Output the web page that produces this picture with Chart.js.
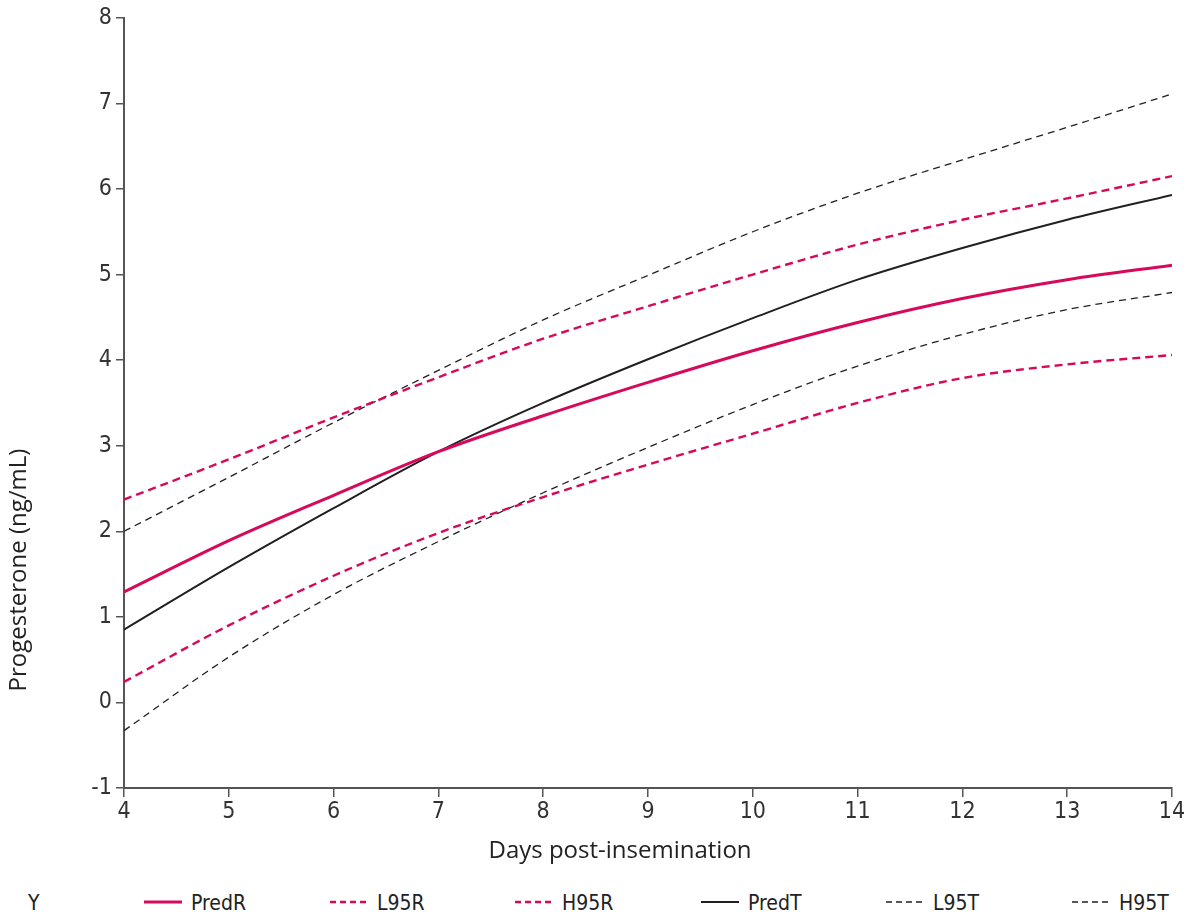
<!DOCTYPE html>
<html>
<head>
<meta charset="utf-8">
<script src="https://cdn.jsdelivr.net/npm/chart.js@4.4.1/dist/chart.umd.min.js"></script>
<style>
body{margin:0;background:#fff;width:1184px;height:913px;overflow:hidden;font-family:"Liberation Sans Narrow","DejaVu Sans Condensed",sans-serif}
#wrap{position:relative;width:1184px;height:913px}
#c{position:absolute;left:0;top:0}
#legend{position:absolute;left:0;top:890px;width:1184px;height:26px;font-size:21px;color:#222}
.item{position:absolute;top:0;height:26px;display:flex;align-items:center;white-space:nowrap}
.item svg{margin-right:9px}
</style>
</head>
<body>
<div id="wrap">
<canvas id="c" width="1184" height="880"></canvas>
<div id="legend"></div>
</div>
<script>
// values
const days = [4, 5, 6, 7, 8, 9, 10, 11, 12, 13, 14]
const predR = [1.29, 1.89, 2.42, 2.93, 3.35, 3.74, 4.11, 4.44, 4.72, 4.94, 5.11]
const l95R  = [2.37, 2.84, 3.33, 3.80, 4.25, 4.63, 5.00, 5.35, 5.64, 5.89, 6.15]
const h95R  = [0.24, 0.90, 1.48, 1.98, 2.40, 2.78, 3.14, 3.50, 3.79, 3.95, 4.06]
const predT = [0.85, 1.58, 2.27, 2.93, 3.50, 4.01, 4.49, 4.94, 5.31, 5.64, 5.93]
const l95T  = [2.00, 2.63, 3.27, 3.88, 4.47, 4.99, 5.50, 5.95, 6.34, 6.72, 7.11]
const h95T  = [-0.33, 0.53, 1.26, 1.88, 2.45, 2.98, 3.48, 3.93, 4.30, 4.59, 4.79]

const xTitle = 'Days post-insemination'
const yTitle = 'Progesterone (ng/mL)'
const legendLead = 'Y'

const RED = '#d7095a'
const BLK = '#231f20'
const AX = '#555555'
const tickFont = {family: '"Liberation Sans Narrow","DejaVu Sans Condensed",sans-serif', size: 23}

function pts(ys){ return days.map((d,i) => ({x: d, y: ys[i]})) }

const series = [
  {label: 'PredR', data: predR, color: RED, width: 3, dash: []},
  {label: 'L95R',  data: l95R,  color: RED, width: 2.4, dash: [8,5]},
  {label: 'H95R',  data: h95R,  color: RED, width: 2.4, dash: [8,5]},
  {label: 'PredT', data: predT, color: BLK, width: 2, dash: []},
  {label: 'L95T',  data: l95T,  color: BLK, width: 1.3, dash: [7,5]},
  {label: 'H95T',  data: h95T,  color: BLK, width: 1.3, dash: [7,5]},
]

const axisTitles = {
  id: 'axisTitles',
  afterDraw(chart){
    const ctx = chart.ctx
    ctx.save()
    ctx.fillStyle = '#222'
    ctx.font = '24px "Open Sans", sans-serif'
    ctx.textAlign = 'center'
    ctx.textBaseline = 'middle'
    ctx.fillText(xTitle, 620, 851)
    ctx.translate(19, 570)
    ctx.rotate(-Math.PI/2)
    ctx.fillText(yTitle, 0, 0)
    ctx.restore()
  }
}

new Chart(document.getElementById('c'), {
  type: 'line',
  data: {
    datasets: series.map(s => ({
      label: s.label,
      data: pts(s.data),
      borderColor: s.color,
      backgroundColor: s.color,
      borderWidth: s.width,
      borderDash: s.dash,
      pointRadius: 0,
      cubicInterpolationMode: 'monotone',
      fill: false
    }))
  },
  options: {
    responsive: false,
    animation: false,
    layout: {padding: {top: 17, right: 12, left: 0, bottom: 0}},
    plugins: {legend: {display: false}, tooltip: {enabled: false}},
    scales: {
      x: {
        type: 'linear', min: 4, max: 14,
        afterFit(scale){ scale.height = 92; scale.paddingRight = 0 },
        ticks: {stepSize: 1, color: '#333', font: tickFont, padding: 1},
        grid: {drawOnChartArea: false, tickLength: 9, color: AX, lineWidth: 1.5},
        border: {color: AX, width: 2}
      },
      y: {
        min: -1, max: 8,
        afterFit(scale){ scale.width = 124 },
        ticks: {stepSize: 1, color: '#333', font: tickFont, padding: 4},
        grid: {drawOnChartArea: false, tickLength: 8, color: AX, lineWidth: 1.5},
        border: {color: AX, width: 2}
      }
    }
  },
  plugins: [axisTitles]
})

// legend below the chart
const leg = document.getElementById('legend')
const lead = document.createElement('div')
lead.className = 'item'
lead.style.left = '28px'
lead.textContent = legendLead
leg.appendChild(lead)
series.forEach((s, i) => {
  const it = document.createElement('div')
  it.className = 'item'
  it.style.left = Math.round(144 + i * 185.5) + 'px'
  const w = 38
  it.innerHTML = '<svg width="' + w + '" height="10"><line x1="0" y1="4" x2="' + w + '" y2="4" stroke="' + s.color +
    '" stroke-width="' + s.width + '" stroke-dasharray="' + (s.dash.length ? '6,4' : 'none') + '"/></svg>'
  const t = document.createElement('span')
  t.textContent = s.label
  it.appendChild(t)
  leg.appendChild(it)
})
</script>
</body>
</html>
